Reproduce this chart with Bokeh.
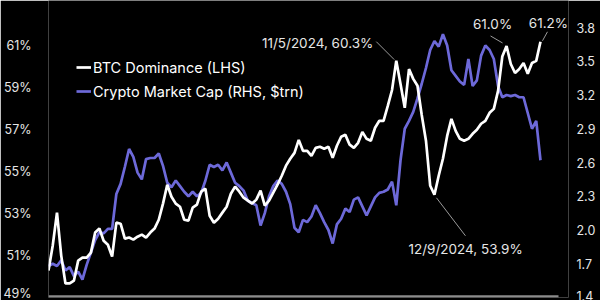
import pandas as pd
from bokeh.plotting import figure
from bokeh.models import (Range1d, LinearAxis, FixedTicker, PrintfTickFormatter,
                          Legend, LegendItem, Label, BoxAnnotation)
from bokeh.embed import file_html
from bokeh.resources import INLINE

# ---------------- data ----------------
start_date = "2023-12-13"
dates = pd.date_range(start_date, periods=117, freq="4D")

btc_dominance = [
    50.29, 51.48, 53.05, 51.0, 49.67, 49.67, 49.81, 50.76, 50.90, 50.90,
    51.14, 52.10, 52.29, 51.71, 51.52, 50.95, 52.57, 52.52, 51.81, 51.86,
    51.76, 51.90, 52.0, 51.86, 52.10, 52.29, 52.71, 53.48, 54.38, 53.81,
    53.48, 53.33, 52.71, 52.67, 53.29, 53.43, 54.05, 54.19, 52.90, 52.57,
    52.76, 53.05, 53.33, 53.95, 54.29, 54.05, 53.76, 53.62, 53.48, 53.67,
    54.10, 53.38, 53.62, 54.0, 54.38, 54.81, 55.29, 55.62, 55.90, 56.52,
    56.0, 56.0, 55.76, 56.14, 56.19, 56.10, 56.19, 55.67, 56.24, 56.67,
    56.76, 56.29, 56.14, 56.38, 56.90, 56.57, 56.48, 57.10, 57.43, 57.43,
    58.14, 58.90, 60.30, 59.19, 58.05, 59.90, 59.43, 59.10, 57.71, 56.48,
    54.33, 53.90, 54.81, 55.62, 56.71, 57.52, 56.95, 56.57, 56.48, 56.57,
    56.81, 57.0, 57.29, 57.43, 57.81, 58.0, 58.86, 60.5, 61.0, 60.14,
    59.71, 59.90, 60.19, 59.67, 60.19, 60.29, 61.2,
]

crypto_mcap = [
    1.68, 1.70, 1.68, 1.73, 1.64, 1.67, 1.59, 1.63, 1.56, 1.69,
    1.80, 1.91, 1.98, 1.97, 2.01, 2.01, 2.32, 2.41, 2.56, 2.72,
    2.65, 2.51, 2.45, 2.63, 2.64, 2.64, 2.68, 2.57, 2.42, 2.38,
    2.44, 2.39, 2.34, 2.30, 2.34, 2.30, 2.33, 2.44, 2.58, 2.56,
    2.58, 2.53, 2.60, 2.51, 2.42, 2.39, 2.35, 2.26, 2.24, 2.22,
    2.04, 2.15, 2.30, 2.39, 2.44, 2.41, 2.34, 2.23, 2.02, 1.98,
    2.09, 2.07, 2.12, 2.22, 2.15, 2.07, 2.00, 1.88, 2.05, 2.10,
    2.19, 2.16, 2.27, 2.29, 2.21, 2.13, 2.21, 2.29, 2.33, 2.34,
    2.36, 2.43, 2.22, 2.62, 2.90, 2.97, 3.05, 3.17, 3.30, 3.44,
    3.60, 3.68, 3.63, 3.74, 3.64, 3.42, 3.37, 3.32, 3.29, 3.52,
    3.28, 3.33, 3.55, 3.64, 3.60, 3.52, 3.28, 3.18, 3.20, 3.19,
    3.20, 3.18, 3.18, 3.04, 2.90, 2.97, 2.62,
]

left_ticks = [49, 51, 53, 55, 57, 59, 61]
right_ticks = [1.4, 1.7, 2.0, 2.3, 2.6, 2.9, 3.2, 3.5, 3.8]

series_labels = ["BTC Dominance (LHS)", "Crypto Market Cap (RHS, $trn)"]

# annotations: (index into series, text)
ann_peak = (82, "11/5/2024, 60.3%")
ann_dip = (91, "12/9/2024, 53.9%")
ann_high1 = (108, "61.0%")
ann_high2 = (116, "61.2%")

# ---------------- styling ----------------
FONT = "Inter"
WHITE = "#ffffff"
BLUE = "#6d69d9"
TEXT = "#e6e6e6"
LEADER = "#9a9a9a"

FRAME_W = 520          # plot frame width in px (48 .. 568)
AXIS_DAYS = 481        # span covered by the baseline
PPD = 1.0603           # pixels per day
X_DAYS = FRAME_W / PPD
LEFT = (49, 63.17)
RIGHT = (1.4, 4.04)

p = figure(width=600, height=300, x_axis_type="datetime",
           output_backend="svg", toolbar_location=None,
           x_axis_location=None, y_axis_location="left",
           min_border_left=48, min_border_right=600 - 48 - FRAME_W,
           min_border_top=0, min_border_bottom=3,
           background_fill_color="black", border_fill_color="black",
           outline_line_color=None)

x0 = dates[0].to_pydatetime()
x1 = (dates[0] + pd.Timedelta(days=X_DAYS)).to_pydatetime()
p.x_range = Range1d(x0, x1)
p.y_range = Range1d(*LEFT)
p.extra_y_ranges = {"right": Range1d(*RIGHT)}
p.grid.visible = False

ya = p.yaxis[0]
ya.ticker = FixedTicker(ticks=left_ticks)
ya.formatter = PrintfTickFormatter(format="%d%%")

ra = LinearAxis(y_range_name="right")
ra.ticker = FixedTicker(ticks=right_ticks)
ra.formatter = PrintfTickFormatter(format="%.1f")
p.add_layout(ra, "right")

for ax in (ya, ra):
    ax.axis_line_color = None
    ax.major_tick_line_color = None
    ax.minor_tick_line_color = None
    ax.major_tick_out = 0
    ax.major_tick_in = 0
    ax.major_label_text_font = FONT
    ax.major_label_text_font_size = "12.5px"
    ax.major_label_text_color = TEXT
ya.major_label_standoff = 17
ra.major_label_standoff = 8

ppv = 297.0 / (LEFT[1] - LEFT[0])    # pixels per percentage point

# baseline (grey rule along the bottom)
p.add_layout(BoxAnnotation(left=x0,
                           right=(dates[0] + pd.Timedelta(days=AXIS_DAYS)).to_pydatetime(),
                           bottom=LEFT[0], top=LEFT[0] + 2.2 / ppv,
                           fill_color="#8c8c8c", fill_alpha=1, line_color=None))

r_blue = p.line(dates, crypto_mcap, y_range_name="right",
                line_color=BLUE, line_width=2.7)
r_white = p.line(dates, btc_dominance, line_color=WHITE, line_width=2.7)

legend = Legend(items=[LegendItem(label=series_labels[0], renderers=[r_white]),
                       LegendItem(label=series_labels[1], renderers=[r_blue])],
                location=(28, 196), orientation="vertical",
                background_fill_alpha=0, border_line_alpha=0,
                label_text_color=WHITE, label_text_font=FONT,
                label_text_font_size="14.5px",
                glyph_width=15, glyph_height=20, label_height=20,
                spacing=4, padding=0, margin=0, label_standoff=2)
p.add_layout(legend)


def annotate(idx, text, align, dx_text, dy_text, lead):
    d = dates[idx]
    v = btc_dominance[idx]
    p.add_layout(Label(x=d.to_pydatetime(), y=v, text=text,
                       x_offset=dx_text, y_offset=dy_text,
                       text_align=align, text_baseline="middle",
                       text_font=FONT, text_font_size="13.5px",
                       text_color=TEXT))
    (a_dx, a_dy), (b_dx, b_dy) = lead
    xa = d + pd.Timedelta(days=a_dx / PPD)
    xb = d + pd.Timedelta(days=b_dx / PPD)
    p.segment(x0=[xa], y0=[v + a_dy / ppv], x1=[xb], y1=[v + b_dy / ppv],
              line_color=LEADER, line_width=1)


annotate(ann_peak[0], ann_peak[1], "right", -23, 18, ((-2, 1), (-20, 19)))
annotate(ann_dip[0], ann_dip[1], "left", -26, -54, ((2, -3), (31, -41)))
annotate(ann_high1[0], ann_high1[1], "center", -14, 22, ((-4, 3), (-16, 10)))
annotate(ann_high2[0], ann_high2[1], "center", 8, 19, ((2, 1), (7, 10)))

open("out.html", "w").write(file_html(p, INLINE))
